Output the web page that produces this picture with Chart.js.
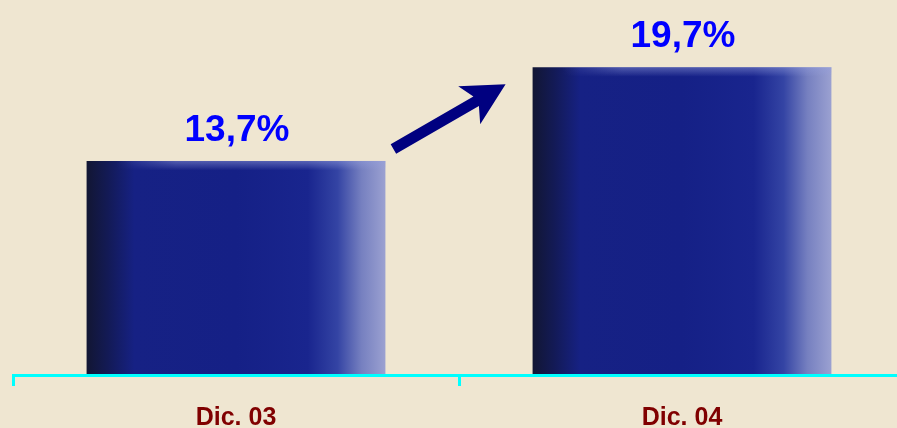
<!DOCTYPE html>
<html>
<head>
<meta charset="utf-8">
<script src="https://cdn.jsdelivr.net/npm/chart.js@4"></script>
<style>
  html, body { margin: 0; padding: 0; background: #efe6d1; overflow: hidden; }
  canvas { display: block; }
</style>
</head>
<body>
<canvas id="chart" width="905" height="428"></canvas>
<script>
// categories and values
var periods = ['Dic. 03', 'Dic. 04'];
var ratios = [13.7, 19.7];
var ratioLabels = ['13,7%', '19,7%'];

var BAR_PCT = 0.67;

// horizontal shading of each bar (dark left edge, light right edge)
function barShade(c) {
    var chart = c.chart;
    var xs = chart.scales.x;
    if (!chart.chartArea || !xs) return '#162288';
    var cx = xs.getPixelForValue(c.dataIndex);
    var half = xs.width / periods.length * BAR_PCT / 2;
    var g = chart.ctx.createLinearGradient(cx - half, 0, cx + half, 0);
    g.addColorStop(0, '#121633');
    g.addColorStop(0.07, '#131a55');
    g.addColorStop(0.16, '#162184');
    g.addColorStop(0.5, '#152086');
    g.addColorStop(0.74, '#19258e');
    g.addColorStop(0.84, '#3444a4');
    g.addColorStop(0.92, '#7680c0');
    g.addColorStop(1, '#9ba1d1');
    return g;
}

// top sheen, value labels and the arrow between bars
var decorPlugin = {
    id: 'decor',
    afterDatasetsDraw: function(chart) {
        var ctx = chart.ctx;
        var bars = chart.getDatasetMeta(0).data;
        ctx.save();
        bars.forEach(function(b, i) {
            var l = b.x - b.width / 2;
            var sh = ctx.createLinearGradient(l, 0, l + b.width, 0);
            sh.addColorStop(0, 'rgba(140,150,215,0)');
            sh.addColorStop(0.1, 'rgba(140,150,215,0)');
            sh.addColorStop(0.3, 'rgba(140,150,215,0.5)');
            sh.addColorStop(1, 'rgba(150,160,220,0.5)');
            ctx.fillStyle = sh;
            for (var r = 0; r < 9; r++) {
                ctx.globalAlpha = 1 - r / 9;
                ctx.fillRect(l, b.y + r, b.width, 1);
            }
            ctx.globalAlpha = 1;

            ctx.fillStyle = '#0000ff';
            ctx.font = 'bold 37px "Liberation Sans", Arial, sans-serif';
            ctx.textAlign = 'center';
            ctx.textBaseline = 'alphabetic';
            ctx.fillText(ratioLabels[i], b.x + 1, b.y - 20);
        });

        // arrow from first bar to second bar
        var a = bars[0], z = bars[1];
        var x0 = a.x + a.width / 2 + 8, y0 = a.y - 12;
        var x1 = z.x - z.width / 2 - 27, y1 = z.y + 17;
        var ang = Math.atan2(y1 - y0, x1 - x0);
        var headLen = 42, headW = 22, shaftW = 5.5;
        var len = Math.hypot(x1 - x0, y1 - y0);
        ctx.translate(x0, y0);
        ctx.rotate(ang);
        ctx.fillStyle = '#000080';
        ctx.beginPath();
        ctx.moveTo(0, -shaftW);
        ctx.lineTo(len - headLen + 8, -shaftW);
        ctx.lineTo(len - headLen, -headW);
        ctx.lineTo(len, 0);
        ctx.lineTo(len - headLen, headW);
        ctx.lineTo(len - headLen + 8, shaftW);
        ctx.lineTo(0, shaftW);
        ctx.closePath();
        ctx.fill();
        ctx.restore();
    }
};

new Chart(document.getElementById('chart'), {
    type: 'bar',
    data: {
        labels: periods,
        datasets: [{
            data: ratios,
            backgroundColor: barShade,
            borderWidth: 0,
            categoryPercentage: 1,
            barPercentage: BAR_PCT
        }]
    },
    options: {
        responsive: false,
        animation: false,
        devicePixelRatio: 1,
        layout: { padding: { left: 13, right: 0, top: 0, bottom: -23 } },
        plugins: {
            legend: { display: false },
            tooltip: { enabled: false }
        },
        scales: {
            x: {
                grid: {
                    display: true,
                    drawOnChartArea: false,
                    drawTicks: true,
                    tickLength: 11,
                    color: '#00ffff',
                    lineWidth: 3
                },
                border: { display: true, color: '#00ffff', width: 3, z: 1 },
                ticks: {
                    color: '#800000',
                    padding: 20,
                    font: { family: '"Liberation Sans", Arial, sans-serif', size: 25, weight: 'bold', lineHeight: 1 }
                }
            },
            y: {
                display: false,
                min: 0,
                max: 24
            }
        }
    },
    plugins: [decorPlugin]
});
</script>
</body>
</html>
